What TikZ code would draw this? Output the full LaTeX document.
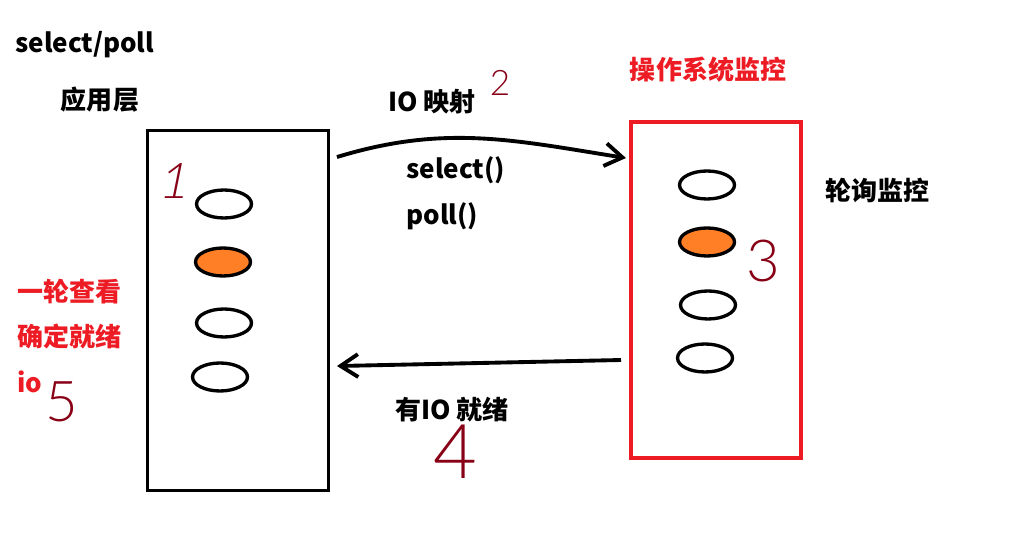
\documentclass[tikz,border=0pt]{standalone}
\usepackage{fontspec}
\newfontfamily\cjk{Noto Sans CJK SC}
\newfontfamily\hand{Lato Light}
\usetikzlibrary{positioning, arrows.meta, calc, shapes.geometric}

\definecolor{paintred}{RGB}{237,28,36}
\definecolor{paintorange}{RGB}{255,127,39}
\definecolor{inkred}{RGB}{136,0,21}

\begin{document}
\begin{tikzpicture}[
        x=0.02cm, y=-0.02cm, % 1 unit = 1 px of the sketch
        % --- styles ---
        txt/.style={
                font=\cjk\bfseries\fontsize{14.8}{17}\selectfont,
                inner sep=0pt
            },
        redtxt/.style={
                txt,
                text=paintred
            },
        layer/.style={
                draw=black,
                line width=1.7pt,
                minimum width=3.62cm,
                minimum height=7.2cm
            },
        oslayer/.style={
                draw=paintred,
                line width=2.3pt,
                minimum width=3.4cm,
                minimum height=6.72cm
            },
        fd/.style={
                ellipse,
                draw=black,
                line width=1.9pt,
                fill=white,
                minimum width=1.1cm,
                minimum height=0.56cm,
                inner sep=0pt
            },
        readyfd/.style={
                fd,
                fill=paintorange
            },
        flow/.style={
                line width=2.2pt,
                -{Straight Barb[length=10pt,width=13pt]}
            },
        digit/.style={
                text=inkred,
                inner sep=0pt
            }
    ]

    \useasboundingbox (0,0) rectangle (1018,540);

    % 1. Titles
    \node[txt, anchor=west] (title) at (15,45) {select/poll};
    \node[txt] (applbl) at (100,100) {应用层};
    \node[redtxt] (oslbl) at (708,70) {操作系统监控};
    \node[txt] (polllbl) at (877,190) {轮询监控};

    % 2. The two layers
    \node[layer] (app) at (238,310.5) {};
    \node[oslayer] (os) at (716,290) {};

    % 3. File descriptors
    \node[fd] (a1) at (224,204) {};
    \node[readyfd] (a2) at (223,262) {};
    \node[fd] (a3) at (224,323) {};
    \node[fd] (a4) at (220,377) {};

    \node[fd] (b1) at (707,185) {};
    \node[readyfd] (b2) at (707,242) {};
    \node[fd] (b3) at (708,305) {};
    \node[fd] (b4) at (705,358) {};

    % 4. Mapping (app -> os)
    \draw[flow] ($(app.north east)+(7,28)$) to[out=17,in=171]
    ($(os.north west)+(-3,38)$);
    \node[txt] (maplbl) at (432,102) {IO 映射};
    \node[txt, anchor=west] (selcall) at (406,170) {select()};
    \node[txt, anchor=west] (pollcall) at (406,216) {poll()};

    % 5. Ready notification (os -> app)
    \draw[flow] ($(os.north west)+(-8,240)$) -- ($(app.north east)+(7,237)$);
    \node[txt] (readylbl) at (452,410) {有IO 就绪};

    % 6. Scan on the app side
    \node[redtxt, anchor=west] (scan1) at (17,292) {一轮查看};
    \node[redtxt, anchor=west] (scan2) at (17,337) {确定就绪};
    \node[redtxt, anchor=west] (scan3) at (17,382) {io};

    % Step numbers
    \node[digit, font=\hand\fontsize{28}{28}\selectfont, xslant=0.2] (n1) at (176,181) {1};
    \node[digit, font=\hand\fontsize{20}{20}\selectfont] (n2) at (500,83) {2};
    \node[digit, font=\hand\fontsize{33}{33}\selectfont] (n3) at (763,261) {3};
    \node[digit, font=\hand\fontsize{43}{43}\selectfont] (n4) at (455,452) {4};
    \node[digit, font=\hand\fontsize{32}{32}\selectfont] (n5) at (62,402) {5};

\end{tikzpicture}
\end{document}
